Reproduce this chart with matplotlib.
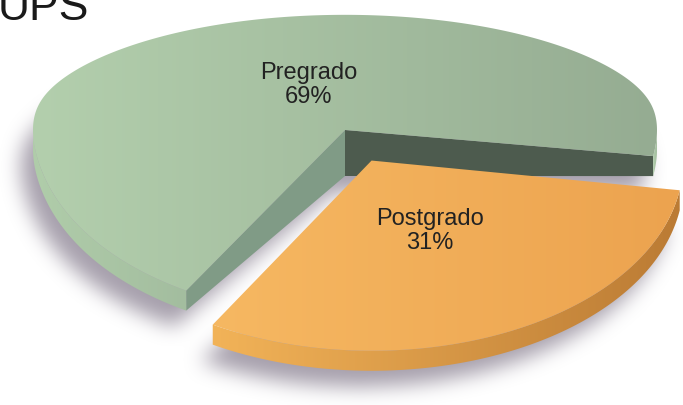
import numpy as np
import matplotlib
matplotlib.use("Agg")
import matplotlib.pyplot as plt
from matplotlib.patches import Polygon
from matplotlib.path import Path
from matplotlib.colors import to_rgb

# ---------------- data ----------------
categories = ["Pregrado", "Postgrado"]
values = [69, 31]
explode = [0.0, 0.2]
title_text = "UPS"

# ---------------- style / geometry ----------------
W, H = 683, 405
CX, CY = 345, 130          # projected pie centre (pixels)
A = 312                    # horizontal radius
B_MID, B_VAR = 151, 36     # vertical radius (near side larger than far side)
D_CENTER, D_RIM = 46, 20   # apparent thickness
START = -9                 # start angle (deg), counter-clockwise

top_left = {"Pregrado": "#b3cfad", "Postgrado": "#f6b862"}
top_right = {"Pregrado": "#95ac92", "Postgrado": "#eca34f"}
rim_left = {"Pregrado": "#b0cdaa", "Postgrado": "#f2b358"}
rim_right = {"Pregrado": "#a3bd9f", "Postgrado": "#bb7b34"}
face_t1 = {"Pregrado": "#4d5b4e", "Postgrado": "#a0692c"}
face_t2 = {"Pregrado": "#809b86", "Postgrado": "#c8873a"}

fig = plt.figure(figsize=(W / 100, H / 100), dpi=100)
fig.patch.set_facecolor("white")
ax = fig.add_axes([0, 0, 1, 1])
ax.set_xlim(0, W)
ax.set_ylim(H, 0)
ax.axis("off")


def proj(X, Y, z):
    X = np.asarray(X, float)
    Y = np.asarray(Y, float)
    return CX + A * X, CY - Y * (B_MID - B_VAR * np.tanh(3 * Y)) + z


total = float(sum(values))
angles = []
a0 = START
for v in values:
    a1 = a0 + 360.0 * v / total
    angles.append((a0, a1))
    a0 = a1

geoms = []
for (t1, t2), e in zip(angles, explode):
    mid = np.deg2rad((t1 + t2) / 2)
    ox, oy = e * np.cos(mid), e * np.sin(mid)
    th = np.deg2rad(np.linspace(t1, t2, 300))
    X = ox + np.cos(th)
    Y = oy + np.sin(th)
    tx, ty = proj(X, Y, 0)
    bx, by = proj(X, Y, D_RIM)
    ax0, ay0 = proj(ox, oy, 0)
    bx0, by0 = proj(ox, oy, D_CENTER)
    geoms.append(dict(th=th, tx=tx, ty=ty, bx=bx, by=by,
                      apex=(float(ax0), float(ay0)), apexb=(float(bx0), float(by0)),
                      t1=t1, t2=t2))


# ---------------- shadow ----------------
def box1d(a, r, axis):
    a = np.moveaxis(a, axis, -1)
    pad = np.pad(a, [(0, 0)] * (a.ndim - 1) + [(r + 1, r)], mode="edge")
    c = np.cumsum(pad, axis=-1)
    out = (c[..., 2 * r + 1:] - c[..., :-2 * r - 1]) / (2 * r + 1)
    return np.moveaxis(out, -1, axis)


gx, gy = np.meshgrid(np.arange(W) + 0.5, np.arange(H) + 0.5)
pts = np.column_stack([gx.ravel(), gy.ravel()])
mask = np.zeros(H * W)
for g in geoms:
    poly = np.vstack([[g["apexb"]], np.column_stack([g["bx"], g["by"]])])
    poly = poly + np.array([-12, 16])
    mask = np.maximum(mask, Path(poly).contains_points(pts).astype(float))
mask = mask.reshape(H, W)
for _ in range(3):
    mask = box1d(mask, 9, 0)
    mask = box1d(mask, 9, 1)
shadow = np.zeros((H, W, 4))
shadow[..., :3] = to_rgb("#978f9e")
shadow[..., 3] = 0.85 * mask
ax.imshow(shadow, extent=(0, W, H, 0), zorder=1, interpolation="bilinear")


def grad_fill(poly, c_left, c_right, x0, x1, zorder):
    patch = Polygon(poly, closed=True, facecolor="none", edgecolor="none",
                    zorder=zorder)
    ax.add_patch(patch)
    t = np.clip((gx - x0) / (x1 - x0), 0, 1)
    cl, cr = np.array(to_rgb(c_left)), np.array(to_rgb(c_right))
    img = cl[None, None, :] * (1 - t[..., None]) + cr[None, None, :] * t[..., None]
    im = ax.imshow(np.clip(img, 0, 1), extent=(0, W, H, 0), zorder=zorder,
                   interpolation="bilinear")
    im.set_clip_path(patch)


# ---------------- slices ----------------
for i, (cat, g) in enumerate(zip(categories, geoms)):
    z = 2 + i * 10
    t1r, t2r = np.deg2rad(g["t1"]), np.deg2rad(g["t2"])
    # radial face at t1
    if np.cos(t1r) > 0:
        p = [g["apex"], (g["tx"][0], g["ty"][0]), (g["bx"][0], g["by"][0]), g["apexb"]]
        ax.add_patch(Polygon(p, closed=True, facecolor=face_t1[cat],
                             edgecolor="none", zorder=z))
    # radial face at t2
    if np.cos(t2r) < 0:
        p = [g["apex"], (g["tx"][-1], g["ty"][-1]), (g["bx"][-1], g["by"][-1]), g["apexb"]]
        ax.add_patch(Polygon(p, closed=True, facecolor=face_t2[cat],
                             edgecolor="none", zorder=z))
    # outer rim (front facing parts)
    front = np.sin(g["th"]) < 0
    idx = np.where(front)[0]
    if len(idx):
        runs = np.split(idx, np.where(np.diff(idx) > 1)[0] + 1)
        for r in runs:
            if len(r) < 2:
                continue
            poly = np.vstack([np.column_stack([g["tx"][r], g["ty"][r]]),
                              np.column_stack([g["bx"][r], g["by"][r]])[::-1]])
            grad_fill(poly, rim_left[cat], rim_right[cat],
                      g["tx"][r].min(), g["tx"][r].max(), z + 1)
    # top
    poly = np.vstack([[g["apex"]], np.column_stack([g["tx"], g["ty"]])])
    grad_fill(poly, top_left[cat], top_right[cat],
              g["tx"].min(), g["tx"].max(), z + 2)

# ---------------- labels ----------------
label_pos = [(309, 85), (430, 231)]
for cat, v, (lx, ly) in zip(categories, values, label_pos):
    ax.text(lx, ly, f"{cat}\n{v}%", ha="center", va="center", fontsize=17,
            color="#222222", family="Liberation Sans", linespacing=1.1,
            zorder=50)

ax.text(-2, 20, title_text, ha="left", va="baseline", fontsize=32,
        color="#1a1a1a", family="Liberation Sans", zorder=50)

fig.savefig("out.png", dpi=100, facecolor="white")
